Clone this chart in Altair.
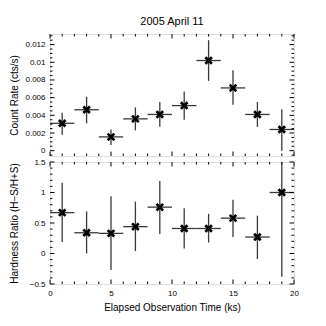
import altair as alt
import pandas as pd
import numpy as np

# ---- data ----
time_ks = [1, 3, 5, 7, 9, 11, 13, 15, 17, 19]
time_halfwidth = 1.0

rate = [0.0031, 0.00463, 0.00156, 0.0036, 0.0041, 0.0051, 0.0102, 0.0071, 0.0041, 0.0024]
rate_hi = [0.0043, 0.0061, 0.0024, 0.0049, 0.0055, 0.0067, 0.0125, 0.0091, 0.0055, 0.0047]
rate_lo = [0.0018, 0.0031, 0.00065, 0.0023, 0.0027, 0.0035, 0.0079, 0.0052, 0.0027, 0.0000]

hr = [0.67, 0.34, 0.33, 0.44, 0.76, 0.41, 0.41, 0.58, 0.27, 1.00]
hr_hi = [1.16, 0.69, 0.94, 0.85, 1.19, 0.74, 0.65, 0.88, 0.62, 2.00]
hr_lo = [0.19, 0.00, -0.27, 0.04, 0.32, 0.08, 0.18, 0.27, -0.09, -0.38]

x_major = [0, 5, 10, 15, 20]
x_minor = [v for v in range(0, 21) if v % 5 != 0]
rate_major = [0, 0.002, 0.004, 0.006, 0.008, 0.01, 0.012]
rate_minor = [round(v * 0.0005, 4) for v in range(-1, 27) if v % 4 != 0]
hr_major = [-0.5, 0, 0.5, 1, 1.5]
hr_minor = [round(v * 0.1, 1) for v in range(-5, 16) if v % 5 != 0]

W, H = 244, 122
FONT = "Liberation Sans"
BAR = "#3a3a3a"
XSHAPE = "M-1,-0.55L-0.55,-1L0,-0.45L0.55,-1L1,-0.55L0.45,0L1,0.55L0.55,1L0,0.45L-0.55,1L-1,0.55L-0.45,0Z"

xdom = [0, 20]


def panel(vals, hi, lo, ydom, ymaj, ymin, ytitle, show_x, title=None):
    df = pd.DataFrame({"t": time_ks, "v": vals, "hi": hi, "lo": lo})
    df["t0"] = df["t"] - time_halfwidth
    df["t1"] = df["t"] + time_halfwidth
    xs = alt.Scale(domain=xdom, nice=False, zero=False)
    ys = alt.Scale(domain=ydom, nice=False, zero=False)
    if show_x:
        xaxis = alt.Axis(values=x_major, ticks=False, domain=False, grid=False,
                         labelFontSize=8, labelFlush=False, labelPadding=5,
                         labelOverlap=False,
                         title="Elapsed Observation Time (ks)", titleFontSize=10,
                         titleFontWeight="normal", titlePadding=5, format="d")
    else:
        xaxis = None
    yaxis = alt.Axis(values=ymaj, ticks=False, domain=False, grid=False,
                     labelFontSize=8, labelPadding=5, format="~g",
                     labelFlush=False, labelOverlap=False,
                     title=ytitle, titleFontSize=10, titleFontWeight="normal",
                     titleX=-36, titleBaseline="middle")

    def X(f):
        return alt.X(f, scale=xs, axis=xaxis)

    def Y(f):
        return alt.Y(f, scale=ys, axis=yaxis)

    base = alt.Chart(df)
    hbar = base.mark_rule(color=BAR, strokeWidth=1.3).encode(
        x=X("t0:Q"), x2="t1:Q", y=Y("v:Q"))
    vbar = base.mark_rule(color=BAR, strokeWidth=1.3, clip=True).encode(
        x=X("t:Q"), y=Y("lo:Q"), y2="hi:Q")
    pts = base.mark_point(shape=XSHAPE, filled=True, color="black", opacity=1,
                          size=72).encode(x=X("t:Q"), y=Y("v:Q"))

    def tick_rules(vals_, length, axis):
        d = pd.DataFrame({"p": vals_})
        if axis == "x":
            c = alt.Chart(d).mark_rule(color="black", strokeWidth=1)
            return [
                c.encode(x=X("p:Q"), y=alt.value(0), y2=alt.value(length)),
                c.encode(x=X("p:Q"), y=alt.value(H), y2=alt.value(H - length)),
            ]
        d2 = d[(d.p >= ydom[0]) & (d.p <= ydom[1])]
        c = alt.Chart(d2).mark_rule(color="black", strokeWidth=1)
        return [
            c.encode(y=Y("p:Q"), x=alt.value(0), x2=alt.value(length)),
            c.encode(y=Y("p:Q"), x=alt.value(W), x2=alt.value(W - length)),
        ]

    layers = [hbar, vbar, pts]
    layers += tick_rules(x_major, 4.5, "x") + tick_rules(x_minor, 2.5, "x")
    layers += tick_rules(ymaj, 4.5, "y") + tick_rules(ymin, 2.5, "y")
    ch = alt.layer(*layers).properties(width=W, height=H)
    if title:
        ch = ch.properties(title=alt.TitleParams(title, fontSize=11, fontWeight="normal",
                                                 font=FONT, offset=7))
    return ch


top = panel(rate, rate_hi, rate_lo, [-0.0006, 0.0132], rate_major, rate_minor,
            "Count Rate (cts/s)", False, title="2005 April 11")
bottom = panel(hr, hr_hi, hr_lo, [-0.5, 1.5], hr_major, hr_minor,
               "Hardness Ratio (H\u2212S/H+S)", True)

chart = alt.vconcat(top, bottom, spacing=0).configure_view(
    stroke="black", strokeWidth=1.2
).configure_axis(labelFont=FONT, titleFont=FONT, labelColor="black", titleColor="black"
).configure(padding={"left": 0, "top": 7, "right": 5, "bottom": 5}, background="white")

chart.save("out.html", embed_options={"renderer": "svg", "actions": False})
